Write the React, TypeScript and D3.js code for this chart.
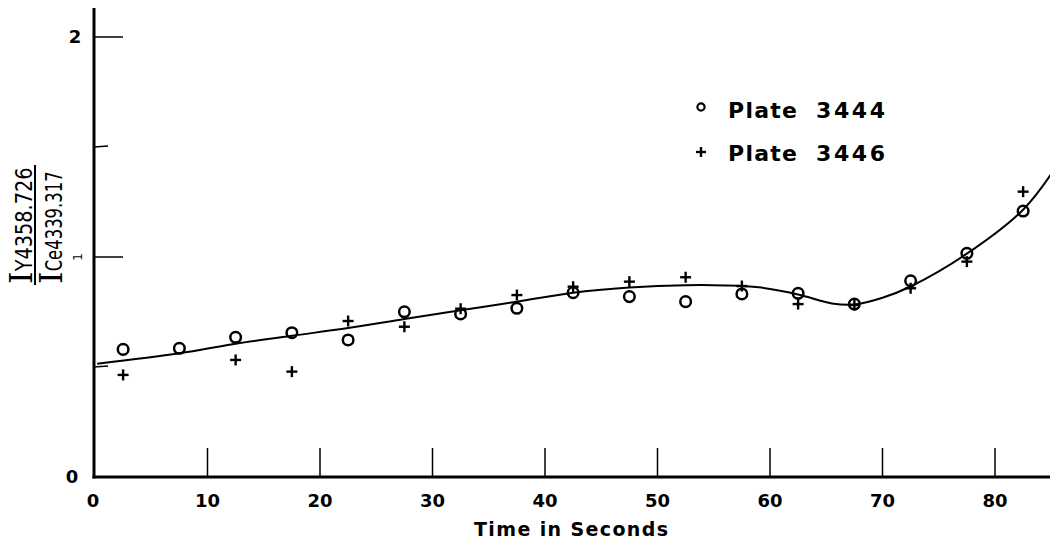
import React from "react";
import * as d3 from "d3";

// Observation times (seconds) shared by both plates
const timeSec = [2.5, 7.5, 12.5, 17.5, 22.5, 27.5, 32.5, 37.5, 42.5, 47.5, 52.5, 57.5, 62.5, 67.5, 72.5, 77.5, 82.5];

// Intensity ratio I(Y 4358.726) / I(Ce 4339.317)
const plate3444 = [0.58, 0.585, 0.635, 0.656, 0.623, 0.751, 0.741, 0.767, 0.838, 0.82, 0.797, 0.832, 0.835, 0.786, 0.892, 1.017, 1.209];
const plate3446: (number | null)[] = [0.464, null, 0.532, 0.479, 0.709, 0.683, 0.765, 0.827, 0.865, 0.888, 0.908, 0.868, 0.786, 0.782, 0.858, 0.979, 1.297];

// Hand-fitted smooth curve through both plates
const fitTime = [0.2, 7.5, 12.5, 17.5, 22.5, 27.5, 32.5, 37.5, 42.5, 47.5, 52.5, 56, 59, 62.5, 65.5, 67.5, 70, 72.5, 77.5, 82.5, 85.3];
const fitValue = [0.515, 0.562, 0.606, 0.642, 0.677, 0.718, 0.758, 0.797, 0.838, 0.861, 0.872, 0.871, 0.862, 0.83, 0.789, 0.784, 0.815, 0.866, 1.015, 1.215, 1.4];

const xTicks = [0, 10, 20, 30, 40, 50, 60, 70, 80];
const yMajorTicks = [1, 2];
const yMinorTicks = [0.5, 1.5];

const legendItems = [
  { symbol: "circle", label: "Plate", num: "3444" },
  { symbol: "plus", label: "Plate", num: "3446" },
];

const W = 1050;
const H = 546;
const FONT = "'DejaVu Sans', 'Liberation Sans', sans-serif";

export default function App() {
  const x = d3.scaleLinear().domain([0, 80]).range([95, 995]);
  const y = d3.scaleLinear().domain([0, 2]).range([477, 37]);

  const fitPts: [number, number][] = fitTime.map((t, i) => [t, fitValue[i]]);
  const line = d3
    .line<[number, number]>()
    .x((d) => x(d[0]))
    .y((d) => y(d[1]))
    .curve(d3.curveCatmullRom.alpha(0.5));

  const axisX0 = 94;

  const plus = (cx: number, cy: number, s: number, key: string) => (
    <g key={key} stroke="#000" strokeWidth={2.4}>
      <line x1={cx - s} x2={cx + s} y1={cy} y2={cy} />
      <line x1={cx} x2={cx} y1={cy - s} y2={cy + s} />
    </g>
  );

  return (
    <svg
      width={W}
      height={H}
      style={{ position: "absolute", left: 0, top: 0, background: "#fff" }}
      fontFamily={FONT}
    >
      <rect width={W} height={H} fill="#fff" />

      {/* axes */}
      <line x1={axisX0} x2={axisX0} y1={8} y2={478.5} stroke="#000" strokeWidth={3} />
      <line x1={axisX0 - 1.5} x2={W} y1={477} y2={477} stroke="#000" strokeWidth={3} />

      {/* x ticks, drawn upward inside the plot */}
      {xTicks.filter((t) => t > 0).map((t) => (
        <line key={"xt" + t} x1={x(t)} x2={x(t)} y1={477} y2={448} stroke="#000" strokeWidth={1.5} />
      ))}
      {xTicks.map((t) => (
        <text
          key={"xl" + t}
          x={x(t) - (t === 0 ? 2 : 0)}
          y={507}
          textAnchor="middle"
          fontSize={18}
          fontWeight="bold"
        >
          {t}
        </text>
      ))}

      {/* y ticks */}
      {yMajorTicks.map((v) => (
        <line key={"yt" + v} x1={axisX0} x2={123} y1={y(v)} y2={y(v)} stroke="#000" strokeWidth={1.5} />
      ))}
      {yMinorTicks.map((v) => (
        <line key={"ym" + v} x1={axisX0} x2={108} y1={y(v)} y2={y(v) - 1} stroke="#000" strokeWidth={1.5} />
      ))}
      <text x={75} y={y(2) + 6} textAnchor="middle" fontSize={18} fontWeight="bold">2</text>
      <text x={72} y={y(0) + 6} textAnchor="middle" fontSize={18} fontWeight="bold">0</text>
      <text
        transform={`translate(82,${y(1)}) rotate(-90)`}
        textAnchor="middle"
        fontSize={12}
      >
        1
      </text>

      {/* y axis title: ratio of line intensities */}
      <g transform="translate(32,284) rotate(-90)">
        <text x={0} y={0}>
          <tspan fontFamily="'DejaVu Serif', serif" fontSize={32}>I</tspan>
          <tspan fontSize={23} textLength={104} lengthAdjust="spacingAndGlyphs">Y4358.726</tspan>
        </text>
      </g>
      <line x1={35} x2={35} y1={165} y2={285} stroke="#000" strokeWidth={2} />
      <g transform="translate(62,284) rotate(-90)">
        <text x={0} y={0}>
          <tspan fontFamily="'DejaVu Serif', serif" fontSize={32}>I</tspan>
          <tspan fontSize={23} textLength={100} lengthAdjust="spacingAndGlyphs">Ce4339.317</tspan>
        </text>
      </g>

      {/* x axis title */}
      <text
        x={571}
        y={536}
        textAnchor="middle"
        fontSize={19}
        fontWeight="bold"
        textLength={194}
        lengthAdjust="spacing"
      >
        Time in Seconds
      </text>

      {/* fitted curve */}
      <path d={line(fitPts) ?? ""} fill="none" stroke="#000" strokeWidth={2} />

      {/* Plate 3444: open circles */}
      {plate3444.map((v, i) => (
        <circle
          key={"c" + i}
          cx={x(timeSec[i])}
          cy={y(v)}
          r={5.3}
          fill="none"
          stroke="#000"
          strokeWidth={2.5}
        />
      ))}

      {/* Plate 3446: plus signs */}
      {plate3446.map((v, i) =>
        v == null ? null : plus(x(timeSec[i]), y(v), 5.5, "p" + i)
      )}

      {/* legend */}
      {legendItems.map((it, i) => {
        const ly = 118 + i * 43;
        return (
          <g key={"lg" + i}>
            {it.symbol === "circle" ? (
              <circle cx={701} cy={ly - 11} r={3.6} fill="none" stroke="#000" strokeWidth={2.2} />
            ) : (
              plus(701, ly - 9, 5, "lp" + i)
            )}
            <text x={728} y={ly} fontSize={22} fontWeight="bold" textLength={69} lengthAdjust="spacing">
              {it.label}
            </text>
            <text x={816} y={ly} fontSize={22} fontWeight="bold" textLength={69} lengthAdjust="spacing">
              {it.num}
            </text>
          </g>
        );
      })}
    </svg>
  );
}
